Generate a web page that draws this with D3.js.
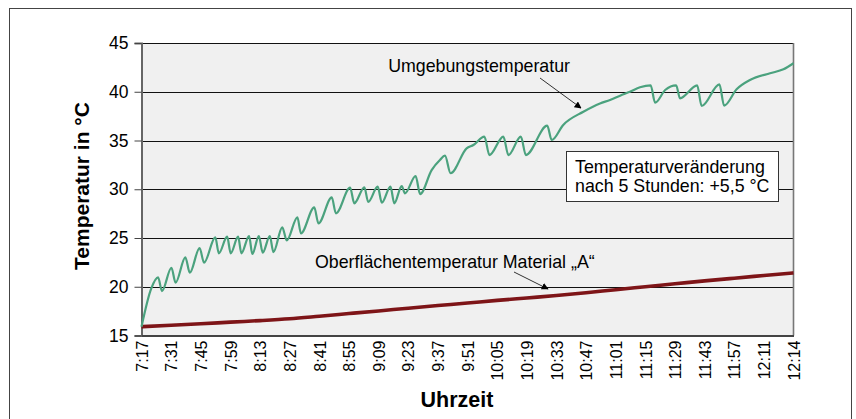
<!DOCTYPE html>
<html><head><meta charset="utf-8">
<script src="https://cdn.jsdelivr.net/npm/d3@7"></script>
<style>
body{margin:0;background:#fff}
svg{display:block}
text{font-family:"Liberation Sans",Arial,Helvetica,sans-serif;fill:#000}
</style>
</head><body>
<svg id="chart" width="856" height="419"></svg>
<script>
// ---- data ----
const timeLabels = ["7:17","7:31","7:45","7:59","8:13","8:27","8:41","8:55","9:09","9:23","9:37","9:51",
  "10:05","10:19","10:33","10:47","11:01","11:15","11:29","11:43","11:57","12:11","12:14"];
const yTicks = [15,20,25,30,35,40,45];
// position measured in label intervals (0 = 7:17, 22 = 12:14)
const ambientPos = [0,0.33,0.56,0.69,1.01,1.15,1.48,1.63,1.96,2.11,2.49,2.61,2.89,3.01,3.26,3.37,3.63,3.74,3.96,4.09,
  4.33,4.45,4.75,4.9,5.26,5.38,5.83,5.97,6.42,6.56,7.04,7.18,7.52,7.65,7.97,8.11,8.4,8.53,8.78,8.89,
  9.25,9.4,9.79,10.07,10.24,10.43,10.97,11.2,11.57,11.74,12.21,12.38,12.8,12.97,13.69,13.84,14.23,14.91,15.47,15.81,
  16.15,16.48,16.82,17.18,17.33,17.67,18.04,18.17,18.75,18.9,19.5,19.66,20.08,20.53,21.21,21.66,22];
const ambientTemp = [15.9,19.84,20.97,19.56,21.95,20.42,23.02,21.44,23.97,22.47,25.07,23.43,25.14,23.43,25.14,23.43,25.2,23.36,25.2,23.5,
  25.2,23.56,26.1,24.75,27.12,25.48,28.15,26.5,29.17,27.53,30.16,28.56,30.2,28.7,30.26,28.62,30.26,28.56,30.33,29.58,
  31.36,29.51,31.97,33.0,33.44,31.64,34.2,34.54,35.39,33.51,35.39,33.51,35.39,33.51,36.52,35.05,36.6,37.95,38.8,39.15,
  39.6,40.0,40.46,40.66,38.88,40.18,40.66,39.33,40.66,38.54,40.76,38.57,40.25,41.2,41.9,42.3,42.92];
const surfacePos = [0,1,2,3,4,5,6,7,8,9,10,11,12,13,14,15,16,17,18,19,20,21,22];
const surfaceTemp = [15.9,16.05,16.2,16.37,16.53,16.72,16.98,17.25,17.52,17.8,18.07,18.33,18.6,18.85,19.1,19.38,19.7,20.0,20.3,20.6,20.88,21.15,21.42];
const labelAmbient = "Umgebungstemperatur";
const labelSurface = "Oberflächentemperatur Material „A“";
const boxLines = ["Temperaturveränderung","nach 5 Stunden: +5,5 °C"];

// ---- layout ----
const plot = {left:141.5, right:793.5, top:43, bottom:335.5};
const svg = d3.select("#chart");

const x = d3.scaleLinear().domain([0, timeLabels.length-1]).range([plot.left, plot.right]);
const y = d3.scaleLinear().domain([15,45]).range([plot.bottom, plot.top]);

// outer frame
svg.append("rect").attr("x",9.5).attr("y",8.5).attr("width",842).attr("height",440)
  .attr("fill","#fff").attr("stroke","#444").attr("stroke-width",1);

// plot area
svg.append("rect").attr("x",plot.left).attr("y",plot.top)
  .attr("width",plot.right-plot.left).attr("height",plot.bottom-plot.top).attr("fill","#f0f0f0");

// gridlines
svg.append("g").selectAll("line").data(yTicks.filter(v=>v>15)).join("line")
  .attr("x1",plot.left).attr("x2",plot.right)
  .attr("y1",d=>Math.round(y(d))+0.5).attr("y2",d=>Math.round(y(d))+0.5)
  .attr("stroke","#111").attr("stroke-width",1.2);

// right border
svg.append("line").attr("x1",plot.right).attr("x2",plot.right).attr("y1",plot.top).attr("y2",plot.bottom)
  .attr("stroke","#777").attr("stroke-width",1.6);

// y axis
const yAxis = svg.append("g").attr("transform",`translate(${plot.left},0)`)
  .call(d3.axisLeft(y).tickValues(yTicks).tickSize(7).tickPadding(6).tickFormat(d3.format("d")));
yAxis.select(".domain").attr("stroke","#666").attr("stroke-width",2);
yAxis.selectAll(".tick line").attr("stroke","#444");
yAxis.selectAll(".tick text").attr("font-size","17.5px").attr("fill","#000")
  .style("font-family",'"Liberation Sans",Arial,sans-serif');

// x axis
const xAxis = svg.append("g").attr("transform",`translate(0,${plot.bottom})`)
  .call(d3.axisBottom(x).tickValues(timeLabels.map((d,i)=>i)).tickSize(0).tickFormat(i=>timeLabels[i]));
xAxis.select(".domain").attr("stroke","#444").attr("stroke-width",2);
xAxis.selectAll(".tick text")
  .attr("font-size","16px").attr("fill","#000")
  .style("font-family",'"Liberation Sans",Arial,sans-serif')
  .attr("text-anchor","end").attr("transform","rotate(-90)")
  .attr("x",-5).attr("y",0).attr("dy","0.36em");

// axis titles
svg.append("text").attr("transform",`translate(89,186) rotate(-90)`)
  .attr("text-anchor","middle").attr("font-weight","bold").attr("font-size","21px").text("Temperatur in °C");
svg.append("text").attr("x",457).attr("y",407)
  .attr("text-anchor","middle").attr("font-weight","bold").attr("font-size","21.5px").text("Uhrzeit");

// lines
const line = d3.line().x(d=>x(d[0])).y(d=>y(d[1])).curve(d3.curveMonotoneX);
svg.append("path").datum(d3.zip(surfacePos, surfaceTemp)).attr("d",line)
  .attr("fill","none").attr("stroke","#7e1518").attr("stroke-width",3.6).attr("stroke-linejoin","round");
svg.append("path").datum(d3.zip(ambientPos, ambientTemp)).attr("d",line)
  .attr("fill","none").attr("stroke","#4ba27e").attr("stroke-width",2.2).attr("stroke-linejoin","round");

// arrow marker
svg.append("defs").append("marker").attr("id","arr").attr("viewBox","0 0 10 10")
  .attr("refX",9).attr("refY",5).attr("markerWidth",7).attr("markerHeight",7)
  .attr("markerUnits","userSpaceOnUse").attr("orient","auto")
  .append("path").attr("d","M0,0L10,5L0,10z").attr("fill","#000");

// annotations
svg.append("text").attr("x",570).attr("y",72).attr("text-anchor","end").attr("font-size","17.8px").text(labelAmbient);
svg.append("line").attr("x1",540).attr("y1",78).attr("x2",581).attr("y2",108)
  .attr("stroke","#000").attr("stroke-width",0.8).attr("marker-end","url(#arr)");

svg.append("text").attr("x",315).attr("y",268).attr("font-size","17.8px").text(labelSurface);
svg.append("line").attr("x1",514).attr("y1",272).attr("x2",548).attr("y2",289)
  .attr("stroke","#000").attr("stroke-width",0.8).attr("marker-end","url(#arr)");

// box
svg.append("rect").attr("x",566.5).attr("y",151.5).attr("width",212).attr("height",50)
  .attr("fill","#fff").attr("stroke","#333").attr("stroke-width",1);
svg.append("g").selectAll("text").data(boxLines).join("text")
  .attr("x",575).attr("y",(d,i)=>173+i*18.5).attr("font-size","17.8px").text(d=>d);
</script>
</body></html>
